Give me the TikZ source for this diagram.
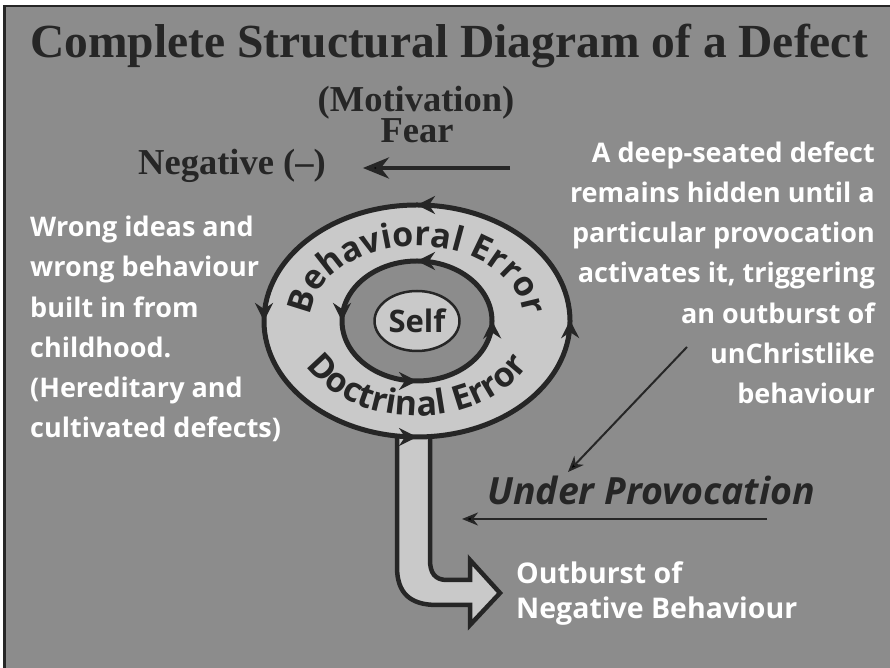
\documentclass[tikz,border=0pt]{standalone}
\usepackage{fontspec}
\setmainfont{Liberation Serif}
\newfontfamily\labelfont{Open Sans}
\usetikzlibrary{arrows.meta,decorations.text,decorations.markings,shapes.geometric}
\definecolor{panel}{HTML}{8C8C8C}
\definecolor{ink}{HTML}{262626}
\definecolor{ringfill}{HTML}{C9C9C9}
\newcommand\ringfont{\labelfont\bfseries\fontsize{34}{34}\selectfont}

\begin{document}
\begin{tikzpicture}[x=1pt, y=1pt,
    serif/.style={font=\bfseries\fontsize{36.5}{36.5}\selectfont, text=ink, inner sep=0pt},
    note/.style={font=\labelfont\bfseries\fontsize{27}{40.2}\selectfont, text=white, inner sep=0pt},
    ringtip/.tip={Stealth[length=18pt, width=18pt, inset=6pt]},
    cycle arrows/.style={postaction={decorate}, decoration={markings,
        mark=at position 0.001 with {\arrow{ringtip}},
        mark=at position 0.25 with {\arrow{ringtip}},
        mark=at position 0.5 with {\arrow{ringtip}},
        mark=at position 0.75 with {\arrow{ringtip}}}},
    fear arrow/.style={draw=ink, line width=4pt, -{Stealth[length=26pt, width=21pt, inset=8pt]}},
    thin arrow/.style={draw=ink, line width=2pt, -{Stealth[length=16pt, width=13pt, inset=5pt]}},
    ring text/.style={decorate, decoration={text along path, text format delimiters={|}{|},
        text={|\ringfont|#1}, text align=center, text color=ink}}
  ]
    \useasboundingbox (0,0) rectangle (890,668);
    \fill[white] (0,0) rectangle (890,668);
    \fill[panel] (4.5,0) rectangle (890,662);
    \draw[ink, line width=2.5pt] (4.5,0) -- (4.5,662) -- (890,662);

    \node[serif, font=\bfseries\fontsize{47.5}{47.5}\selectfont, anchor=base] (title) at (449,610) {Complete Structural Diagram of a Defect};
    \node[serif, anchor=base] (motivation) at (416,556) {(Motivation)};
    \node[serif, anchor=base] (fear) at (417,525) {Fear};
    \node[serif, anchor=base west] (negative) at (138,493) {Negative (--)};

    % stem of the big arrow
    \draw[ink, fill=ringfill, line width=4.5pt] (397,238) -- (397,101) .. controls (397,75) and (410,63) .. (437,63)
        -- (470,63) -- (470,43) -- (500,75) -- (470,108) -- (470,88) -- (447,88)
        .. controls (435,88) and (430,95) .. (430,108) -- (430,238) -- cycle;

    \draw[ink, fill=ringfill, line width=5pt, cycle arrows] (417,347) ellipse [x radius=153, y radius=116];
    \draw[ink, fill=panel, line width=5pt, cycle arrows] (417,347) ellipse [x radius=75, y radius=60];
    \node[ellipse, draw=ink, fill=ringfill, line width=2.5pt, minimum width=85pt, minimum height=60pt, inner sep=0pt,
        font=\labelfont\bfseries\fontsize{31}{31}\selectfont, text=ink] (self) at (417,347) {Self};

    \path[ring text=Behavioral Error] (417,347) ++(178:107 and 75) arc[start angle=178, end angle=2, x radius=107, y radius=75];
    \path[ring text=Doctrinal Error] (417,347) ++(185:126 and 95) arc[start angle=185, end angle=355, x radius=126, y radius=95];

    \node[note, align=left, anchor=north west] (childhood) at (30,452) {Wrong ideas and\\wrong behaviour\\built in from\\childhood.\\(Hereditary and\\cultivated defects)};
    \node[note, align=right, anchor=north east] (hidden) at (875,526.5) {A deep-seated defect\\remains hidden until a\\particular provocation\\activates it, triggering\\an outburst of\\unChristlike\\behaviour};
    \node[font=\labelfont\bfseries\itshape\fontsize{37.5}{37.5}\selectfont, text=ink, inner sep=0pt, anchor=base west] (provocation) at (487,163) {Under Provocation};
    \node[note, font=\labelfont\bfseries\fontsize{28.5}{35}\selectfont, align=left, anchor=north west] (outburst) at (516,107) {Outburst of\\Negative Behaviour};

    \coordinate (feartail) at (510,500);
    \coordinate (trigger) at (687,321);
    \coordinate (cue) at (568,196);
    \coordinate (pushtail) at (767,149);
    \coordinate (pushtip) at (462,149);

    \draw[fear arrow] (feartail) -- (feartail -| negative.east) [shorten >=37pt];
    \draw[thin arrow] (trigger) -- (cue);
    \draw[thin arrow] (pushtail) -- (pushtip);
\end{tikzpicture}
\end{document}
